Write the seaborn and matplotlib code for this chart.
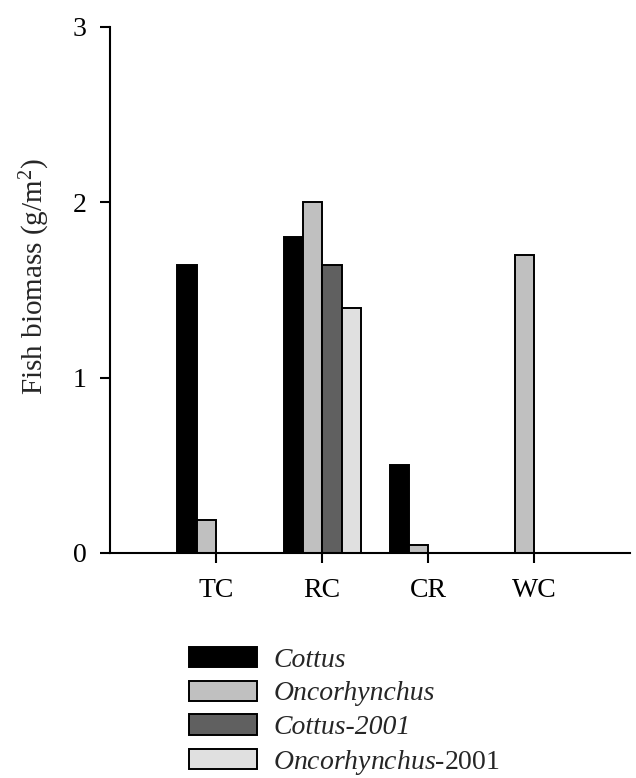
import matplotlib
matplotlib.use("Agg")
import matplotlib.pyplot as plt
import seaborn as sns
import numpy as np
import pandas as pd

sites = ["TC", "RC", "CR", "WC"]
series = ["Cottus", "Oncorhynchus", "Cottus-2001", "Oncorhynchus-2001"]
cottus = [1.64, 1.80, 0.50, np.nan]
oncorhynchus = [0.19, 2.00, 0.046, 1.70]
cottus_2001 = [np.nan, 1.64, np.nan, np.nan]
oncorhynchus_2001 = [np.nan, 1.40, np.nan, np.nan]
legend_labels = ["Cottus", "Oncorhynchus", "Cottus-2001", r"$\mathit{Oncorhynchus}$-2001"]
legend_italic = [True, True, True, False]
colors = ["#000000", "#c0c0c0", "#606060", "#e0e0e0"]
yticks = [0, 1, 2, 3]

rows = []
for name, vals in zip(series, [cottus, oncorhynchus, cottus_2001, oncorhynchus_2001]):
    for s, v in zip(sites, vals):
        rows.append({"site": s, "series": name, "biomass": v})
df = pd.DataFrame(rows)

sns.set_theme(style="ticks")
plt.rcParams["font.family"] = ["Liberation Serif", "DejaVu Serif"]
plt.rcParams["mathtext.fontset"] = "custom"
plt.rcParams["mathtext.rm"] = "Liberation Serif"
plt.rcParams["mathtext.it"] = "Liberation Serif:italic"

fig = plt.figure(figsize=(6.36, 7.78), dpi=100)
ax = fig.add_axes([110 / 636, 1 - 553 / 778, 520 / 636, 526 / 778])

sns.barplot(data=df, x="site", y="biomass", hue="series", order=sites,
            hue_order=series, palette=colors, width=0.73, edgecolor="black",
            linewidth=1.4, saturation=1, ax=ax, legend=True)

ax.set_xlim(-1.0, 3.9)
ax.set_ylim(0, 3)
ax.set_yticks(yticks)
ax.set_yticklabels([str(t) for t in yticks])
ax.set_xlabel("")
ax.set_ylabel(r"Fish biomass (g/m$^2$)", fontsize=21)
ax.yaxis.set_label_coords(-0.112, 0.525)
for sp in ["top", "right"]:
    ax.spines[sp].set_visible(False)
for sp in ["left", "bottom"]:
    ax.spines[sp].set_linewidth(1.5)
    ax.spines[sp].set_color("black")
ax.tick_params(axis="both", direction="out", length=7, width=1.5, color="black",
               labelsize=20, labelcolor="black")
ax.tick_params(axis="x", pad=11)
ax.tick_params(axis="y", pad=10)

handles, _ = ax.get_legend_handles_labels()
ax.get_legend().remove()
leg = fig.legend(handles, legend_labels, loc="upper left",
                 bbox_to_anchor=(189 / 636, 1 - 647 / 778),
                 frameon=False, fontsize=20, handlelength=2.45, handleheight=0.75,
                 handletextpad=0.58, labelspacing=0.28, borderpad=0, borderaxespad=0)
for t, it in zip(leg.get_texts(), legend_italic):
    if it:
        t.set_fontstyle("italic")

fig.savefig("out.png", dpi=100)
